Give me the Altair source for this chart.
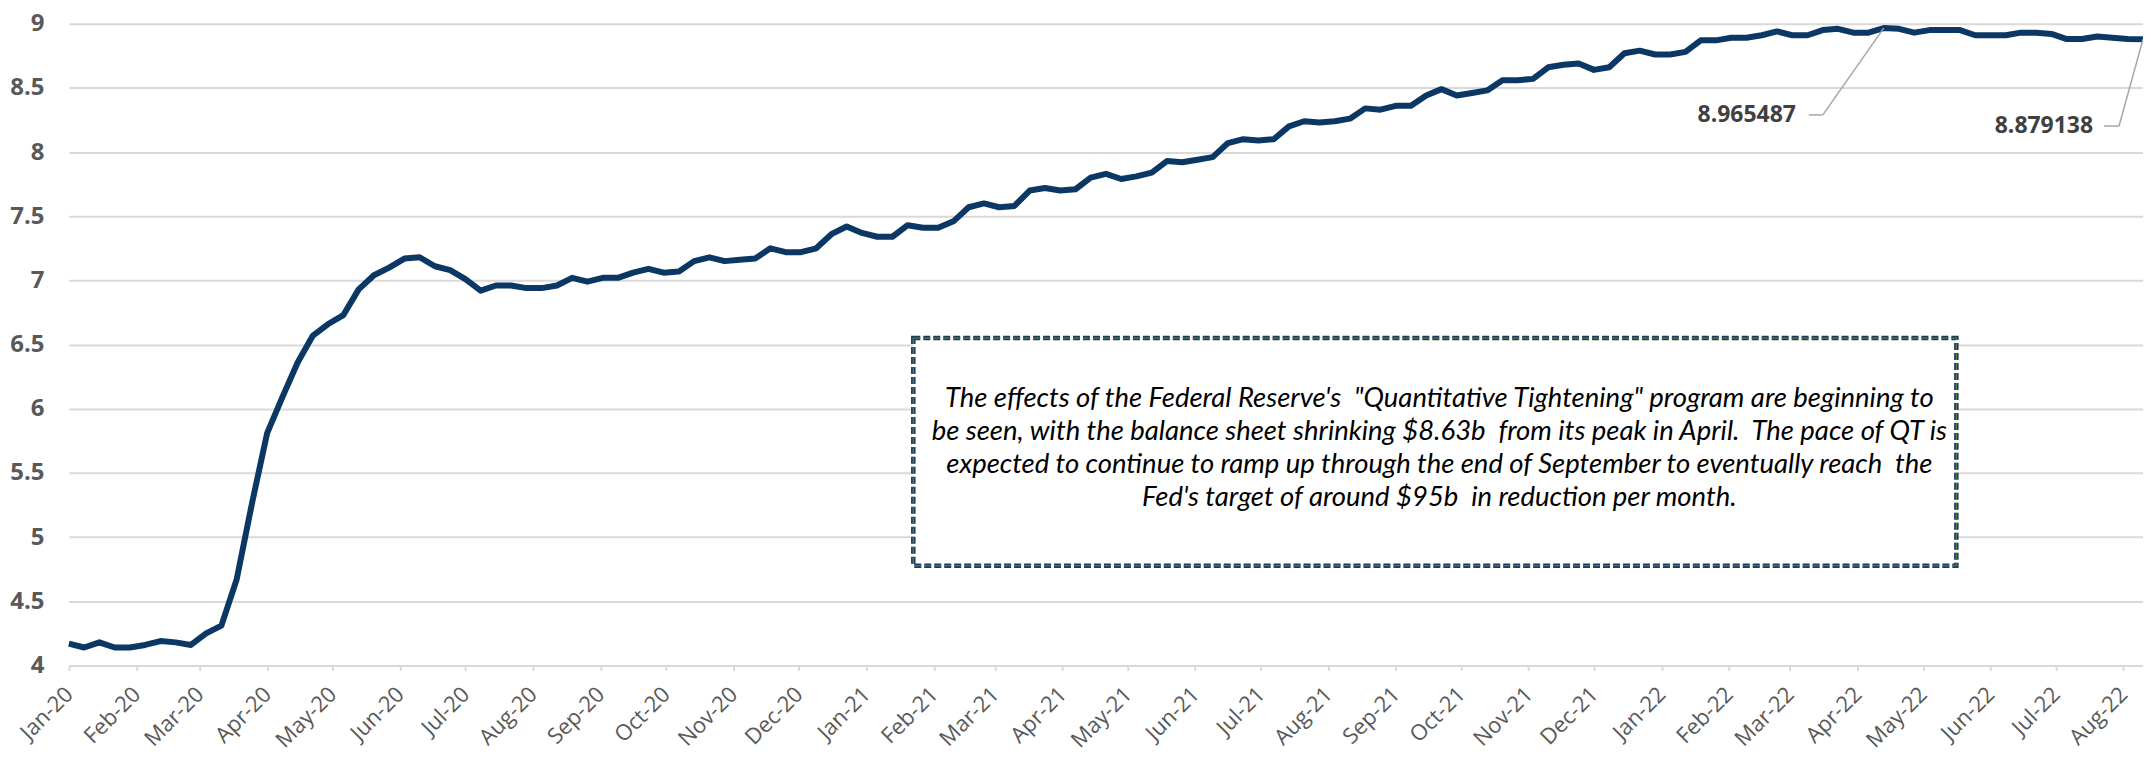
import altair as alt
import pandas as pd

# ---------------- data (Fed balance sheet, $ trillions, weekly from 2020-01-01) ----------------
START_DATE = "2020-01-01"
balance = [
    4.17, 4.14, 4.18, 4.14, 4.14, 4.16, 4.19, 4.18, 4.16, 4.25,   # Jan-Mar 2020
    4.31, 4.67, 5.26, 5.81, 6.09, 6.36, 6.57, 6.66, 6.73, 6.93,
    7.04, 7.10, 7.17, 7.18, 7.11, 7.08, 7.01, 6.92, 6.96, 6.96,
    6.94, 6.94, 6.96, 7.02, 6.99, 7.02, 7.02, 7.06, 7.09, 7.06,
    7.07, 7.15, 7.18, 7.15, 7.16, 7.17, 7.25, 7.22, 7.22, 7.25,
    7.36, 7.42, 7.37,                                              # to Dec 30 2020
    7.34, 7.34, 7.43, 7.41, 7.41, 7.46, 7.57, 7.60, 7.57, 7.58,   # 2021
    7.70, 7.72, 7.70, 7.71, 7.80, 7.83, 7.79, 7.81, 7.84, 7.93,
    7.92, 7.94, 7.96, 8.07, 8.10, 8.09, 8.10, 8.20, 8.24, 8.23,
    8.24, 8.26, 8.34, 8.33, 8.36, 8.36, 8.44, 8.49, 8.44, 8.46,
    8.48, 8.56, 8.56, 8.57, 8.66, 8.68, 8.69, 8.64, 8.66, 8.77,
    8.79, 8.76,                                                    # to Dec 29 2021
    8.76, 8.78, 8.87, 8.87, 8.89, 8.89, 8.91, 8.94, 8.91, 8.91,   # 2022
    8.95, 8.96, 8.93, 8.93, 8.965487, 8.96, 8.93, 8.95, 8.95, 8.95,
    8.91, 8.91, 8.91, 8.93, 8.93, 8.92, 8.88, 8.88, 8.90, 8.89,
    8.88, 8.879138,
]
y_ticks = [4, 4.5, 5, 5.5, 6, 6.5, 7, 7.5, 8, 8.5, 9]
peak_index = 119
last_index = len(balance) - 1
note_lines = [
    "The effects of the Federal Reserve's \u00a0\"Quantitative Tightening\" program are beginning to",
    "be seen, with the balance sheet shrinking $8.63b \u00a0from its peak in April. \u00a0The pace of QT is",
    "expected to continue to ramp up through the end of September to eventually reach \u00a0the",
    "Fed's target of around $95b \u00a0in reduction per month.",
]

dates = pd.date_range(START_DATE, periods=len(balance), freq="7D")
df = pd.DataFrame({"date": dates.strftime("%Y-%m-%dT00:00:00"), "value": balance})
ann = df.iloc[[peak_index, last_index]].reset_index(drop=True)
ann["label"] = ["8.965487", "8.879138"]

# ---------------- layout / style ----------------
W, H = 2078, 643
GRID = "#d9d9d9"
LINE = "#0a3764"
LEADER = "#a6a6a6"
BOX = dict(x=846, x2=1891, y=315, y2=543)
NOTE_X = 1373
NOTE_Y = [376, 409, 442, 475]

x_enc = alt.X(
    "date:T",
    scale=alt.Scale(nice=False),
    axis=alt.Axis(
        format="%b-%y",
        tickCount=alt.TimeIntervalStep(interval="month", step=1),
        labelAngle=315, labelAlign="right", labelBaseline="middle",
        labelPadding=20, tickSize=5, tickColor=GRID, tickWidth=2,
        domainColor=GRID, domainWidth=2, grid=False,
        labelFont="Open Sans", labelFontSize=22, labelColor="#595959",
        labelOverlap=False, labelFlush=False, title=None,
    ),
)
y_enc = alt.Y(
    "value:Q",
    scale=alt.Scale(domain=[4, 9], nice=False, zero=False),
    axis=alt.Axis(
        values=y_ticks, format="~f", domain=False, ticks=False, tickSize=0,
        labelPadding=25, grid=True, gridColor=GRID, gridWidth=2,
        labelFont="Open Sans", labelFontWeight="bold", labelFontSize=24,
        labelColor="#595959", title=None,
    ),
)

line = alt.Chart(df).mark_line(color=LINE, strokeWidth=6, strokeJoin="round").encode(x=x_enc, y=y_enc)

one = pd.DataFrame({"k": [0]})
box_fill = alt.Chart(one).mark_rect(fill="white", stroke="#1f3864", strokeWidth=4.5, strokeDash=[7, 3]).encode(
    x=alt.value(BOX["x"]), x2=alt.value(BOX["x2"]), y=alt.value(BOX["y"]), y2=alt.value(BOX["y2"]))
box_inner = alt.Chart(one).mark_rect(fill=None, stroke="#4f7f36", strokeWidth=1.4, strokeDash=[7, 3]).encode(
    x=alt.value(BOX["x"]), x2=alt.value(BOX["x2"]), y=alt.value(BOX["y"]), y2=alt.value(BOX["y2"]))

note_layers = [
    alt.Chart(one).mark_text(font="Lato", fontStyle="italic", fontSize=27.5, color="#000000",
                             align="center", baseline="middle").encode(
        x=alt.value(NOTE_X), y=alt.value(yy), text=alt.value(txt))
    for txt, yy in zip(note_lines, NOTE_Y)
]

# leaders (offsets from the annotated data point)
peak = ann.iloc[[0]]
last = ann.iloc[[1]]

def leader(d, ex, ey, hx):
    diag = alt.Chart(d).mark_rule(color=LEADER, strokeWidth=1.5, x2Offset=ex, y2Offset=ey).encode(
        x="date:T", y="value:Q", x2="date:T", y2="value:Q")
    horiz = alt.Chart(d).mark_rule(color=LEADER, strokeWidth=1.5, xOffset=ex, yOffset=ey,
                                   x2Offset=hx, y2Offset=ey).encode(
        x="date:T", y="value:Q", x2="date:T", y2="value:Q")
    return [diag, horiz]

def label(d, dx, dy):
    return alt.Chart(d).mark_text(font="Open Sans", fontWeight="bold", fontSize=23, color="#404040",
                                  align="right", baseline="middle", dx=dx, dy=dy).encode(
        x="date:T", y="value:Q", text="label:N")

layers = [line, box_fill, box_inner] + note_layers
layers += leader(peak, -61, 87, -75) + [label(peak, -88, 87)]
layers += leader(last, -24, 87, -39) + [label(last, -50, 86.5)]

chart = alt.layer(*layers).properties(
    width=W, height=H,
    padding={"left": 61, "top": 15, "right": 0, "bottom": 90},
    autosize=alt.AutoSizeParams(type="none"),
    background="white",
).configure_view(stroke=None)

chart.save("out.html", embed_options={"renderer": "svg", "actions": False})
